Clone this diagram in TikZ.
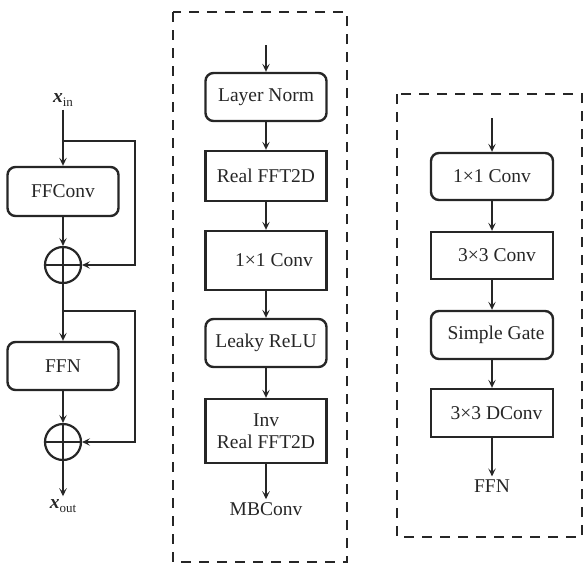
\documentclass[tikz,border=0pt]{standalone}
\usepackage{fontspec}
\setmainfont{Liberation Serif}
\usetikzlibrary{arrows.meta}
\begin{document}
\begin{tikzpicture}[x=1pt,y=-1pt,
  every node/.style={font=\fontsize{19.5}{22}\selectfont, text=black!85},
  arr/.style={line width=2.2pt, draw=black!85, -{Stealth[length=8pt,width=7.5pt,inset=3.5pt]}},
  rbox/.style={draw=black!85, line width=2.4pt, rounded corners=8pt, minimum width=111pt, inner sep=0pt, align=center},
  sbox/.style={draw=black!85, line width=2.4pt, minimum width=121pt, inner sep=0pt, align=center},
  plus/.style={circle, draw=black!85, line width=2.2pt, minimum size=36pt, inner sep=0pt,
    path picture={\draw[line width=2.2pt, draw=black!85] (path picture bounding box.north) -- (path picture bounding box.south)
      (path picture bounding box.west) -- (path picture bounding box.east);}},
  dbox/.style={draw=black!85, line width=2.6pt, dash pattern=on 10pt off 8pt},
  lbl/.style={inner sep=3pt}
]
\useasboundingbox (0,0) rectangle (585,565);

% ---- left column ----
\node[lbl] (xin) at (63,100) {\textbf{\textit{x}}\raisebox{-4pt}{\fontsize{13}{14}\selectfont in}};
\node[rbox, minimum height=49pt] (ffconv) at (63,191.5) {FFConv};
\node[plus] (p1) at (63,265) {};
\node[rbox, minimum height=48pt] (ffn) at (63,366) {FFN};
\node[plus] (p2) at (63,442) {};
\node[lbl] (xout) at (63,506) {\textbf{\textit{x}}\raisebox{-4pt}{\fontsize{13}{14}\selectfont out}};
\coordinate (b1) at (63,141);
\coordinate (b2) at (63,311);

\draw[arr] (xin.south) -- (ffconv.north);
\draw[arr] (ffconv.south) -- (p1.north);
\draw[arr] (b1) -- ++(72,0) |- (p1.east);
\draw[arr] (p1.south) -- (ffn.north);
\draw[arr] (ffn.south) -- (p2.north);
\draw[arr] (b2) -- ++(72,0) |- (p2.east);
\draw[arr] (p2.south) -- (xout.north);

% ---- middle column ----
\draw[dbox] (173,12) rectangle (347,562);
\coordinate (ms) at (266,45);
\node[rbox, minimum width=121pt, minimum height=48pt] (ln) at (266,97) {Layer Norm};
\node[sbox, minimum height=50pt] (rf) at (266,176) {Real FFT2D};
\node[sbox, minimum height=59pt] (c11) at (266,260.5) {\hspace*{16pt}1×1 Conv};
\node[rbox, minimum width=121pt, minimum height=48pt] (lr) at (266,343) {Leaky ReLU};
\node[sbox, minimum height=64pt] (irf) at (266,431) {Inv\\Real FFT2D};
\node[lbl] (mb) at (266,509) {MBConv};
\draw[arr] (ms) -- (ln.north);
\draw[arr] (ln.south) -- (rf.north);
\draw[arr] (rf.south) -- (c11.north);
\draw[arr] (c11.south) -- (lr.north);
\draw[arr] (lr.south) -- (irf.north);
\draw[arr] (irf.south) -- (mb.north);

% ---- right column ----
\draw[dbox] (397,94) rectangle (582,537);
\coordinate (rs) at (492,118);
\node[rbox, minimum width=122pt, minimum height=47pt] (r1) at (492,176.5) {1×1 Conv};
\node[sbox, minimum width=122pt, minimum height=47pt] (r3) at (492,255.5) {\hspace*{10pt}3×3 Conv};
\node[rbox, minimum width=122pt, minimum height=48pt] (sg) at (492,335) {\hspace*{8pt}Simple Gate};
\node[sbox, minimum width=122pt, minimum height=48pt] (dc) at (492,413) {\hspace*{9pt}3×3 DConv};
\node[lbl] (ffnl) at (492,486) {FFN};
\draw[arr] (rs) -- (r1.north);
\draw[arr] (r1.south) -- (r3.north);
\draw[arr] (r3.south) -- (sg.north);
\draw[arr] (sg.south) -- (dc.north);
\draw[arr] (dc.south) -- (ffnl.north);
\end{tikzpicture}
\end{document}
